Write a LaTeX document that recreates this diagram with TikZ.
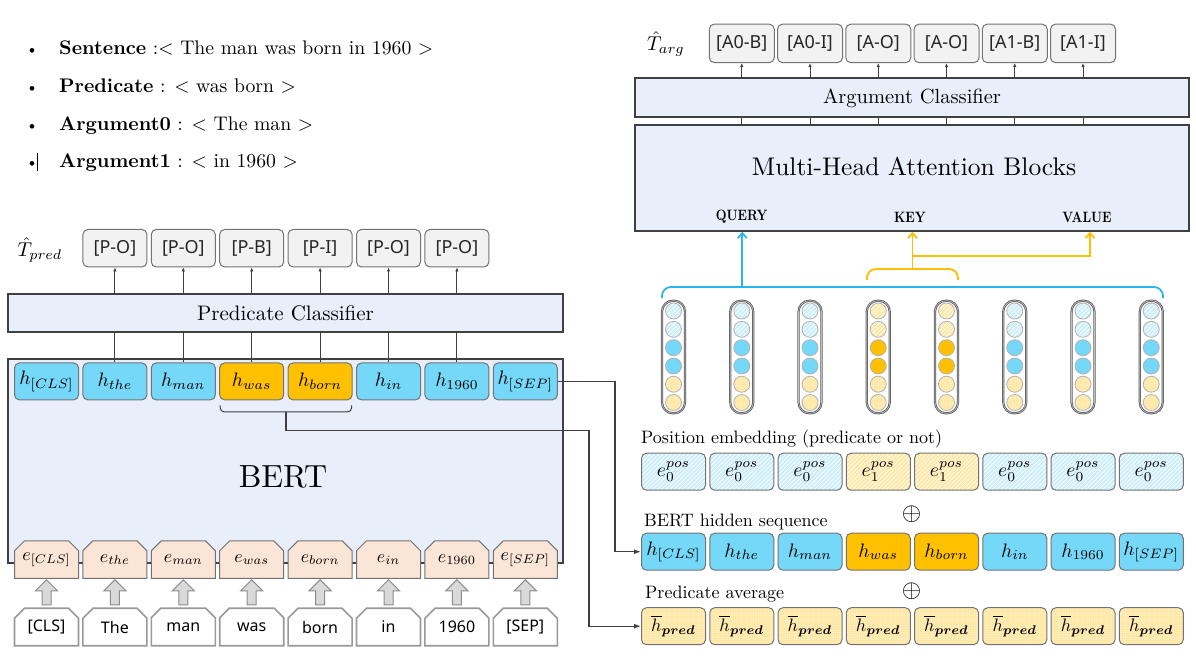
\documentclass[tikz,border=0pt]{standalone}
\usepackage{amsmath,bm}
\usepackage{fontspec}
\setsansfont{Noto Sans}
\usetikzlibrary{shapes.misc,shapes.arrows,patterns.meta,arrows.meta,calc}
\newcommand{\scl}[2]{\scalebox{#1}{\fontsize{10}{12}\selectfont #2}}
\definecolor{cyanbox}{RGB}{117,216,248}
\definecolor{orangebox}{RGB}{255,192,0}
\definecolor{lightbg}{RGB}{232,238,250}
\definecolor{tagfill}{RGB}{242,242,242}
\definecolor{efill}{RGB}{251,229,214}
\definecolor{hatchblue}{RGB}{205,238,251}
\definecolor{hatchyellow}{RGB}{255,232,165}
\definecolor{darkline}{RGB}{64,64,64}
\definecolor{grayline}{RGB}{115,115,115}
\definecolor{qblue}{RGB}{40,182,236}
\definecolor{kyellow}{RGB}{255,190,0}
\definecolor{arrowgray}{RGB}{217,217,217}
\tikzset{
  bigbox/.style={draw=darkline, line width=2pt, fill=lightbg, inner sep=0pt},
  tagbox/.style={draw=grayline, fill=tagfill, rounded corners=5pt, line width=1pt, minimum width=64pt, minimum height=37.5pt, inner sep=0pt, font=\sffamily\fontsize{18}{18}\selectfont, text=black!85},
  hbox/.style={draw=grayline, rounded corners=5pt, line width=1pt, minimum width=64pt, minimum height=37pt, inner sep=0pt},
  bluehatch/.style={preaction={fill=hatchblue}, preaction={pattern={Lines[angle=45,distance=3pt,line width=0.7pt]}, pattern color=white}},
  yellowdots/.style={preaction={fill=hatchyellow}, preaction={pattern={Dots[distance=2.4pt,radius=0.45pt]}, pattern color=white}},
  yellowhatch/.style={preaction={fill=hatchyellow}, preaction={pattern={Lines[angle=45,distance=3pt,line width=0.7pt]}, pattern color=white}},
  chbox/.style={chamfered rectangle, chamfered rectangle corners={north west,north east}, chamfered rectangle xsep=5pt, chamfered rectangle ysep=5pt, minimum width=64pt, minimum height=37.5pt, inner sep=0pt},
  ebox/.style={chbox, draw=grayline, line width=1pt, fill=efill},
  wordbox/.style={chbox, draw=black!40, line width=1.6pt, fill=white, font=\sffamily\fontsize{16}{16}\selectfont},
  blockarr/.style={single arrow, shape border rotate=90, draw=black!45, fill=arrowgray, line width=1pt, minimum height=25pt, inner sep=4pt, single arrow head extend=6.5pt},
  lbl/.style={inner sep=0pt},
  thinline/.style={draw=darkline, line width=1pt},
  smallarrow/.style={draw=darkline, line width=1pt, -{Latex[length=4pt,width=3.5pt]}},
  conn/.style={draw=darkline, line width=1.4pt, -{Latex[length=7pt,width=5pt]}},
  capsule/.style={draw=darkline!85, double=black!25, double distance=0.6pt, line width=0.8pt, rounded corners=11pt, minimum width=23pt, minimum height=112.6pt, inner sep=0pt},
  dot/.style={circle, draw=black!30, line width=0.8pt, minimum size=16pt, inner sep=0pt},
  qline/.style={draw=qblue, line width=1.8pt},
  kline/.style={draw=kyellow, line width=1.8pt},
  qarrow/.style={qline, -{Straight Barb[length=5pt,width=9pt]}},
  karrow/.style={kline, -{Straight Barb[length=5pt,width=9pt]}},
}
\begin{document}
\begin{tikzpicture}[x=1pt,y=-1pt]
\useasboundingbox (0,0) rectangle (1196,659);
\fill[white] (0,0) rectangle (1196,659);

% ---------- bullets ----------
\foreach \y/\t [count=\k] in {54.5/{\textbf{Sentence} :$<$ The man was born in 1960 $>$},
                            92.5/{\textbf{Predicate} : $<$ was born $>$},
                            130.5/{\textbf{Argument0} : $<$ The man $>$},
                            167.5/{\textbf{Argument1} : $<$ in 1960 $>$}} {
  \node[lbl, anchor=base] (bd\k) at (32,\y) {\scl{1.6}{\textbullet}};
  \node[lbl, anchor=base west] (bt\k) at (59,\y) {\scl{1.97}{\t}};
}
\draw[line width=0.8pt] (37,153) -- (37,171);

% ---------- left: BERT ----------
\node[bigbox, minimum width=554.2pt, minimum height=204pt] (bert) at (285.5,461.3) {};
\node[lbl] (bertlbl) at (283,476.7) {\scl{3.2}{BERT}};
\node[bigbox, minimum width=554.2pt, minimum height=37.7pt] (pc) at (285.5,313) {\scl{2.1}{Predicate Classifier}};
\node[lbl] (tpred) at (40,250) {\scl{2}{$\hat{T}_{pred}$}};

\foreach \s/\w [count=\i] in {{[CLS]}/{[CLS]},the/The,man/man,was/was,born/born,in/in,1960/1960,{[SEP]}/{[SEP]}} {
  \pgfmathsetmacro\xx{46.5+68.4*(\i-1)}
  \def\fc{cyanbox}
  \ifnum\i=4 \def\fc{orangebox}\fi
  \ifnum\i=5 \def\fc{orangebox}\fi
  \node[hbox, fill=\fc] (lh\i) at (\xx,381.4) {\scl{1.95}{$h_{\s}$}};
  \node[ebox] (le\i) at (\xx,559.5) {\scl{1.8}{$e_{\s}$}};
  \node[wordbox] (lw\i) at (\xx,627) {\w};
  \node[blockarr] (ba\i) at (\xx,594.5) {};
}
\foreach \t [count=\k from 2] in {{[P-O]},{[P-O]},{[P-B]},{[P-I]},{[P-O]},{[P-O]}} {
  \pgfmathsetmacro\xx{46.5+68.4*(\k-1)}
  \node[tagbox] (pt\k) at (\xx,248.2) {\t};
  \draw[thinline] (lh\k.north) -- (lh\k.north |- pc.south);
  \draw[smallarrow] (lh\k.north |- pc.north) -- (pt\k.south);
}
% brace under was/born
\draw[thinline, rounded corners=4pt] ($(lh4.south west)+(1,5)$) -- ($(lh4.south west)+(1,11.5)$) -- ($(lh5.south east)+(-1,11.5)$) -- ($(lh5.south east)+(-1,5)$);
\coordinate (brmid) at ($(lh4.south east)!0.5!(lh5.south west)+(0,11.5)$);
\coordinate (c1) at (589,430.5);
\coordinate (c2) at (615,381.4);

% ---------- right side ----------
\node[bigbox, minimum width=553.3pt, minimum height=105.7pt] (mha) at (912,177.9) {};
\node[lbl] (mhatxt) at (914,167) {\scl{2.55}{Multi-Head Attention Blocks}};
\node[lbl] (qlab) at (741.7,217) {\scalebox{1.25}[1.5]{\fontsize{10}{12}\selectfont\bfseries QUERY}};
\node[lbl] (klab) at (910,217) {\scalebox{1.25}[1.5]{\fontsize{10}{12}\selectfont\bfseries KEY}};
\node[lbl] (vlab) at (1087,217) {\scalebox{1.25}[1.5]{\fontsize{10}{12}\selectfont\bfseries VALUE}};
\node[bigbox, minimum width=553.3pt, minimum height=39pt] (ac) at (912,97.8) {\scl{2.05}{Argument Classifier}};
\node[lbl] (targ) at (666,44) {\scl{2}{$\hat{T}_{arg}$}};
\foreach \t [count=\k from 2] in {{[A0-B]},{[A0-I]},{[A-O]},{[A-O]},{[A1-B]},{[A1-I]}} {
  \pgfmathsetmacro\xx{673.5+68.25*(\k-1)}
  \node[tagbox, minimum width=65pt, minimum height=38.5pt] (at\k) at (\xx,43.4) {\t};
  \draw[thinline] (at\k.south |- mha.north) -- (at\k.south |- ac.south);
  \draw[smallarrow] (at\k.south |- ac.north) -- (at\k.south);
}

% rows
\node[lbl, anchor=base west] (poslbl) at (641,443) {\scl{1.8}{Position embedding (predicate or not)}};
\node[lbl, anchor=base west] (hidlbl) at (644,526.5) {\scl{1.8}{BERT hidden sequence}};
\node[lbl, anchor=base west] (avglbl) at (645,598.5) {\scl{1.8}{Predicate average}};
\node[lbl] (op1) at (911.7,514) {\scl{2.5}{$\oplus$}};
\node[lbl] (op2) at (911.7,591) {\scl{2.5}{$\oplus$}};

\foreach \s [count=\i] in {{[CLS]},the,man,was,born,in,1960,{[SEP]}} {
  \pgfmathsetmacro\xx{673.5+68.25*(\i-1)}
  \def\fc{cyanbox}\def\pc{0}
  \ifnum\i=4 \def\fc{orangebox}\def\pc{1}\fi
  \ifnum\i=5 \def\fc{orangebox}\def\pc{1}\fi
  \ifnum\pc=1
    \node[hbox, yellowhatch] (rp\i) at (\xx,471.7) {\scl{1.95}{$e_1^{pos}$}};
  \else
    \node[hbox, bluehatch] (rp\i) at (\xx,471.7) {\scl{1.95}{$e_0^{pos}$}};
  \fi
  \node[hbox, fill=\fc] (rh\i) at (\xx,551.7) {\scl{1.95}{$h_{\s}$}};
  \node[hbox, yellowdots] (ra\i) at (\xx,626.2) {\scl{1.8}{$\overline{h}_{\bm{pred}}$}};
  % capsules
  \node[capsule] (cap\i) at (\xx,357) {};
  \foreach \yy [count=\j] in {311,329.3,347.7,366,384.2,402.5} {
    \ifnum\j<3
      \ifnum\pc=1 \node[dot, yellowhatch] (d\i-\j) at (\xx,\yy) {};
      \else \node[dot, bluehatch] (d\i-\j) at (\xx,\yy) {};\fi
    \else\ifnum\j<5
      \node[dot, fill=\fc] (d\i-\j) at (\xx,\yy) {};
    \else
      \node[dot, yellowdots] (d\i-\j) at (\xx,\yy) {};
    \fi\fi
  }
}

% connectors from BERT to right rows
\draw[conn] (lh8.east) -- (c2) |- (rh1.west);
\draw[conn] (brmid) |- (c1) |- (ra1.west);

% braces and arrows to MHA
\draw[qline, rounded corners=9pt] (662,298) -- (662,287) -- (1163,287) -- (1163,298);
\coordinate (qs) at (742.3,287);
\draw[qarrow] (qs) -- (qs |- mha.south);
\draw[kline, rounded corners=9pt] (867,280) -- (867,269) -- (958,269) -- (958,280);
\coordinate (ks) at (912.5,269);
\coordinate (kb) at (912.5,256);
\coordinate (vb) at (1090,256);
\draw[karrow] (ks) -- (ks |- mha.south);
\draw[karrow] (kb) -- (vb) -- (vb |- mha.south);
\end{tikzpicture}
\end{document}
